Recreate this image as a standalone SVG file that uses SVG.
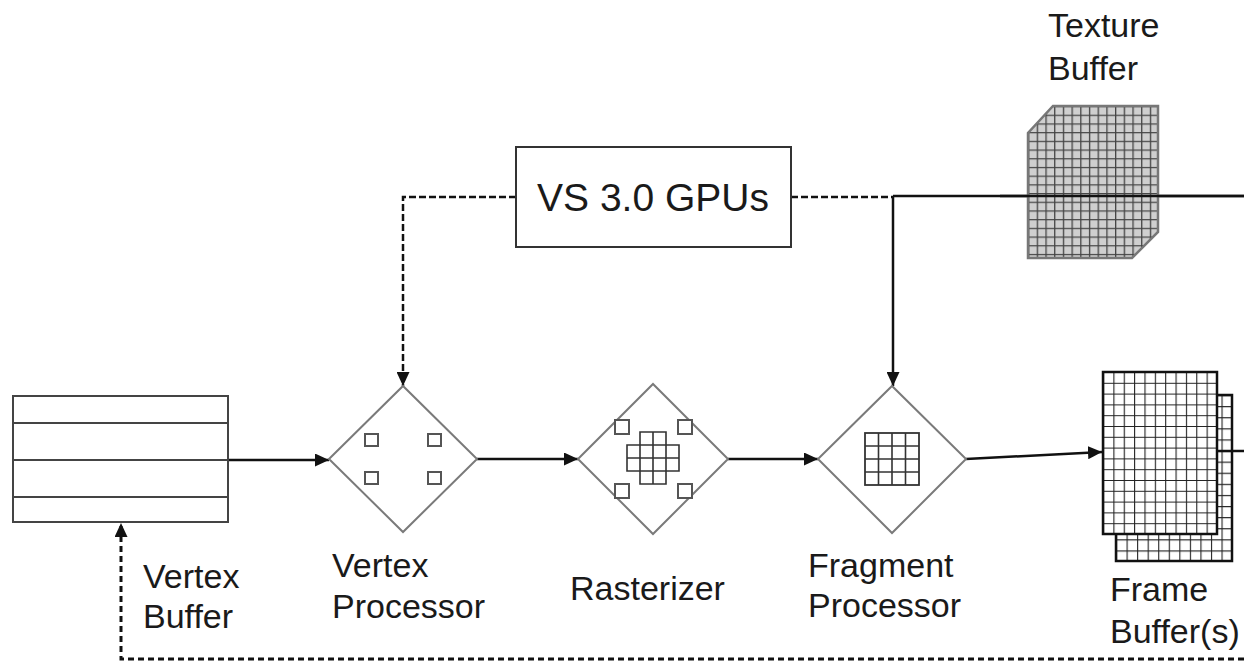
<svg xmlns="http://www.w3.org/2000/svg" width="1244" height="663" viewBox="0 0 1244 663">
<style>
  .lbl{font-family:"Liberation Sans",Arial,sans-serif;font-size:34px;fill:#1a1a1a}
  .big{font-family:"Liberation Sans",Arial,sans-serif;font-size:39px;fill:#1a1a1a}
  .dia{fill:#fff;stroke:#7a7a7a;stroke-width:2}
  .sq{fill:#fff;stroke:#555;stroke-width:2}
  .grid{fill:none;stroke:#333;stroke-width:1.6}
  .conn{fill:none;stroke:#111;stroke-width:2.5}
  .dash{fill:none;stroke:#111;stroke-width:2.5;stroke-dasharray:7 3}
  .vdash{fill:none;stroke:#111;stroke-width:3;stroke-dasharray:6 4}
</style>
<defs>
  <marker id="arr" markerUnits="userSpaceOnUse" markerWidth="16" markerHeight="13" refX="14" refY="6.5" orient="auto">
    <path d="M0,0 L14,6.5 L0,13 z" fill="#111"/>
  </marker>
  <pattern id="fbgrid" patternUnits="userSpaceOnUse" x="1103" y="372" width="10.36" height="10.8">
    <rect width="10.36" height="10.8" fill="#fff"/>
    <path d="M0,0 H10.36 M0,0 V10.8" stroke="#222" stroke-width="2.2"/>
  </pattern>
  <pattern id="fbgrid2" patternUnits="userSpaceOnUse" x="1116" y="395" width="10.55" height="11.1">
    <rect width="10.55" height="11.1" fill="#fff"/>
    <path d="M0,0 H10.55 M0,0 V11.1" stroke="#222" stroke-width="2.2"/>
  </pattern>
  <pattern id="texgrid" patternUnits="userSpaceOnUse" x="1028" y="106" width="8.7" height="8.7">
    <rect width="8.7" height="8.7" fill="#cfcfcf"/>
    <path d="M0,0 H8.7 M0,0 V8.7" stroke="#444" stroke-width="2.6"/>
  </pattern>
</defs>

<g id="connectors">
  <line class="conn" x1="228" y1="460" x2="329" y2="460" marker-end="url(#arr)"/>
  <line class="conn" x1="477" y1="459" x2="578" y2="459" marker-end="url(#arr)"/>
  <line class="conn" x1="728" y1="459" x2="818" y2="459" marker-end="url(#arr)"/>
  <line class="conn" x1="966" y1="459" x2="1102" y2="452" marker-end="url(#arr)"/>
  <polyline class="dash" points="516,197 403,197 403,386" marker-end="url(#arr)"/>
  <line class="dash" x1="791" y1="197" x2="893" y2="197"/>
  <line class="conn" x1="893" y1="196" x2="1244" y2="196"/>
  <line class="conn" x1="893" y1="196" x2="893" y2="386" marker-end="url(#arr)"/>
  <polyline class="vdash" points="1244,659 121,659 121,523" marker-end="url(#arr)"/>
</g>

<g id="vertex-buffer">
  <rect x="13" y="396" width="215" height="126" fill="#fff" stroke="#444" stroke-width="2"/>
  <path d="M13,423 H228 M13,460 H228 M13,497 H228" stroke="#444" stroke-width="2"/>
  <text class="lbl" x="143" y="588">Vertex</text>
  <text class="lbl" x="143" y="628">Buffer</text>
</g>

<g id="vertex-processor">
  <polygon class="dia" points="329,459 403,386 477,459 403,532"/>
  <rect class="sq" x="365" y="434" width="13" height="12"/>
  <rect class="sq" x="428" y="434" width="13" height="12"/>
  <rect class="sq" x="365" y="472" width="13" height="12"/>
  <rect class="sq" x="428" y="472" width="13" height="12"/>
  <text class="lbl" x="332" y="577">Vertex</text>
  <text class="lbl" x="332" y="618">Processor</text>
</g>

<g id="rasterizer">
  <polygon class="dia" points="578,459 653,384 728,459 653,534"/>
  <rect class="sq" x="615" y="420" width="14" height="14"/>
  <rect class="sq" x="678" y="420" width="14" height="14"/>
  <rect class="sq" x="615" y="484" width="14" height="14"/>
  <rect class="sq" x="678" y="484" width="14" height="14"/>
  <path class="grid" d="M640,432 H666 V445 H679 V471 H666 V484 H640 V471 H627 V445 H640 Z M653,432 V484 M640,445 V471 M666,445 V471 M640,445 H666 M627,458 H679 M640,471 H666"/>
  <text class="lbl" x="570" y="600">Rasterizer</text>
</g>

<g id="fragment-processor">
  <polygon class="dia" points="818,459 892,386 966,459 892,533"/>
  <rect x="865" y="433" width="54" height="52" fill="#fff" stroke="#333" stroke-width="1.8"/>
  <path class="grid" d="M878.5,433 V485 M892,433 V485 M905.5,433 V485 M865,446 H919 M865,459 H919 M865,472 H919"/>
  <text class="lbl" x="808" y="577">Fragment</text>
  <text class="lbl" x="808" y="617">Processor</text>
</g>

<g id="frame-buffers">
  <rect x="1116" y="395" width="116" height="166" fill="url(#fbgrid2)" stroke="#111" stroke-width="2.5"/>
  <rect x="1103" y="372" width="114" height="162" fill="url(#fbgrid)" stroke="#111" stroke-width="2.5"/>
  <line class="conn" x1="1217" y1="451" x2="1244" y2="451"/>
  <text class="lbl" x="1110" y="601">Frame</text>
  <text class="lbl" x="1110" y="643">Buffer(s)</text>
</g>

<g id="texture-buffer">
  <polygon points="1053,106 1158,106 1158,232 1132,258 1028,258 1028,133" fill="url(#texgrid)" stroke="#777" stroke-width="2.5"/>
  <line class="conn" x1="1000" y1="196" x2="1244" y2="196"/>
  <text class="lbl" x="1048" y="37">Texture</text>
  <text class="lbl" x="1048" y="80">Buffer</text>
</g>

<g id="vs30-gpus">
  <rect x="516" y="147" width="275" height="100" fill="#fff" stroke="#333" stroke-width="2"/>
  <text class="big" x="653" y="211" text-anchor="middle">VS 3.0 GPUs</text>
</g>
</svg>
